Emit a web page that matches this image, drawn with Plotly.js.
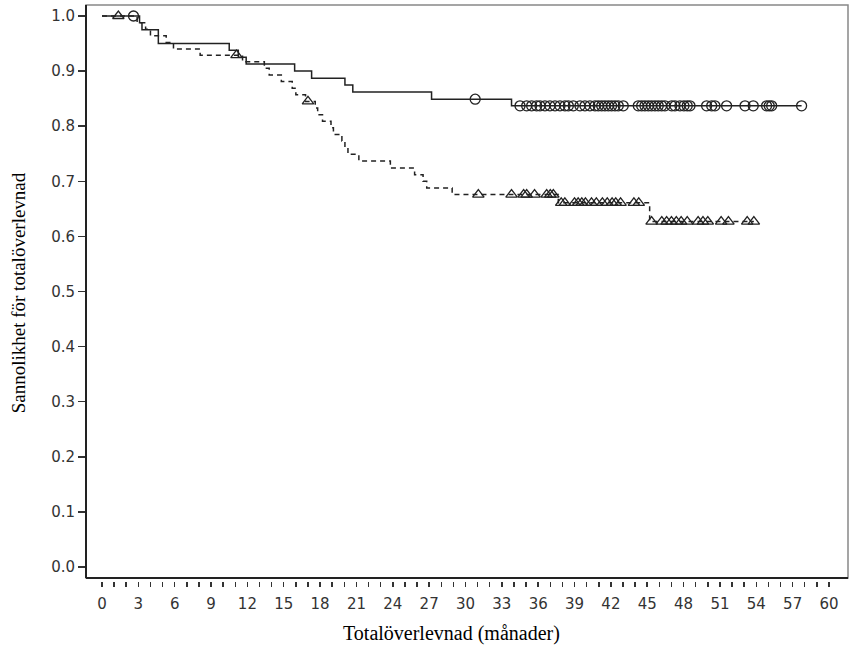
<!DOCTYPE html>
<html><head><meta charset="utf-8">
<script src="https://cdn.plot.ly/plotly-3.0.1.min.js"></script>
<style>html,body{margin:0;padding:0;background:#fff}#chart{width:854px;height:645px}</style>
</head><body><div id="chart"></div>
<script>
// Group A (solid line, circle censor marks)
const eventTimesA = [3.1, 3.3, 4.65, 10.5, 11.25, 11.9, 15.9, 17.3, 20.05, 20.7, 27.2, 33.8];
const survA = [0.988, 0.975, 0.950, 0.938, 0.925, 0.913, 0.900, 0.887, 0.875, 0.862, 0.849, 0.837];
const censorTimesA = [2.6, 30.8, 34.5, 35.05, 35.46, 35.87, 36.15, 36.56, 36.97, 37.39, 37.8, 38.21, 38.49, 38.9,
  39.45, 39.86, 40.27, 40.69, 40.96, 41.24, 41.51, 41.79, 42.06, 42.34, 42.61, 43.02, 44.26, 44.54, 44.81,
  45.09, 45.36, 45.64, 45.91, 46.19, 46.46, 47.02, 47.29, 47.7, 48.03, 48.3, 48.53, 49.9, 50.32, 50.59,
  51.55, 53.07, 53.75, 54.85, 55.07, 55.27, 57.74];

// Group B (dashed line, triangle censor marks)
const eventTimesB = [2.9, 3.6, 4.0, 5.3, 5.9, 8.1, 11.6, 13.4, 13.8, 14.8, 15.7, 16.0, 16.8, 17.6, 17.8, 18.2,
  18.9, 19.1, 19.8, 20.05, 20.3, 21.2, 23.8, 25.8, 26.5, 26.8, 28.9, 37.66, 45.2];
const survB = [0.988, 0.976, 0.964, 0.952, 0.940, 0.929, 0.917, 0.905, 0.893, 0.881, 0.869, 0.857, 0.845, 0.833,
  0.821, 0.809, 0.797, 0.785, 0.773, 0.761, 0.749, 0.737, 0.724, 0.712, 0.700, 0.688, 0.676, 0.661, 0.627];
const censorTimesB = [1.35, 11.1, 17.0, 31.06, 33.8, 34.8, 35.05, 35.7, 36.7, 37.0, 37.25, 37.9, 38.2, 39.0, 39.3,
  39.6, 39.9, 40.4, 40.8, 41.3, 41.7, 42.1, 42.4, 42.8, 43.9, 44.3, 45.36, 46.2, 46.6, 47.0, 47.4, 47.8, 48.3,
  49.2, 49.6, 50.0, 51.1, 51.7, 53.25, 53.8];

const xTickLabels = ['0','3','6','9','12','15','18','21','24','27','30','33','36','39','42','45','48','51','54','57','60'];
const xTitle = 'Totalöverlevnad (månader)';
const yTitle = 'Sannolikhet för totalöverlevnad';

function survAt(t, times, surv) {
  let s = 1;
  for (let i = 0; i < times.length; i++) { if (times[i] <= t) s = surv[i]; }
  return s;
}
function stepXY(times, surv, censor) {
  const last = Math.max(times[times.length - 1], ...censor);
  return {x: [0, ...times, last], y: [1, ...surv, surv[surv.length - 1]]};
}
// monthly tick marks, labelled every 3 months
const firstTick = Number(xTickLabels[0]), lastTick = Number(xTickLabels[xTickLabels.length - 1]);
const tickVals = [], tickText = [];
for (let m = firstTick; m <= lastTick; m++) {
  tickVals.push(m);
  tickText.push(xTickLabels.includes(String(m)) ? String(m) : '');
}

const ink = '#222';
const a = stepXY(eventTimesA, survA, censorTimesA);
const b = stepXY(eventTimesB, survB, censorTimesB);

const traces = [
  {x: a.x, y: a.y, mode: 'lines', line: {shape: 'hv', color: ink, width: 1.5}, hoverinfo: 'skip'},
  {x: b.x, y: b.y, mode: 'lines', line: {shape: 'hv', color: ink, width: 1.5, dash: '5px,4px'}, hoverinfo: 'skip'},
  {x: censorTimesA, y: censorTimesA.map(t => survAt(t, eventTimesA, survA)), mode: 'markers',
   marker: {symbol: 'circle-open', size: 10, color: ink, line: {width: 1.3, color: ink}}},
  {x: censorTimesB, y: censorTimesB.map(t => survAt(t, eventTimesB, survB)), mode: 'markers',
   marker: {symbol: 'triangle-up-open', size: 10, color: ink, line: {width: 1.3, color: ink}}}
];

const tickFont = {family: 'DejaVu Sans', size: 15, color: '#333'};
const serif = {family: 'Liberation Serif', size: 19, color: '#000'};
const serifX = {family: 'Liberation Serif', size: 20, color: '#000'};
const frameBottom = 3 / 576;

const layout = {
  width: 854, height: 645,
  margin: {l: 86, r: 6, t: 5, b: 64},
  paper_bgcolor: '#fff', plot_bgcolor: '#fff',
  showlegend: false,
  xaxis: {
    range: [-1.32, 61.57], tickmode: 'array', tickvals: tickVals, ticktext: tickText,
    ticks: 'outside', ticklen: 5, tickwidth: 1.5, tickcolor: '#333', ticklabelstandoff: 4,
    showgrid: false, zeroline: false, showline: false, tickfont: tickFont
  },
  yaxis: {
    range: [-0.0254, 1.02], dtick: 0.1, tick0: 0, tickformat: '.1f',
    ticks: 'outside', ticklen: 7, tickwidth: 1.5, tickcolor: '#333',
    showgrid: false, zeroline: false, showline: false, tickfont: tickFont,
    title: {text: yTitle, font: serif, standoff: 20}
  },
  shapes: [
    {type: 'rect', xref: 'paper', yref: 'paper', x0: 0, x1: 1, y0: frameBottom, y1: 1, line: {color: '#888', width: 1.5}, layer: 'below'},
    {type: 'line', xref: 'paper', yref: 'paper', x0: 0, x1: 0, y0: frameBottom, y1: 1, line: {color: '#222', width: 2}},
    {type: 'line', xref: 'paper', yref: 'paper', x0: 0, x1: 1, y0: frameBottom, y1: frameBottom, line: {color: '#222', width: 2}}
  ],
  annotations: [
    {text: xTitle, xref: 'paper', yref: 'paper', x: 0.48, y: -0.0903, xanchor: 'center', yanchor: 'middle', showarrow: false, font: serifX}
  ]
};
Plotly.newPlot('chart', traces, layout, {displayModeBar: false, staticPlot: true});
</script></body></html>
